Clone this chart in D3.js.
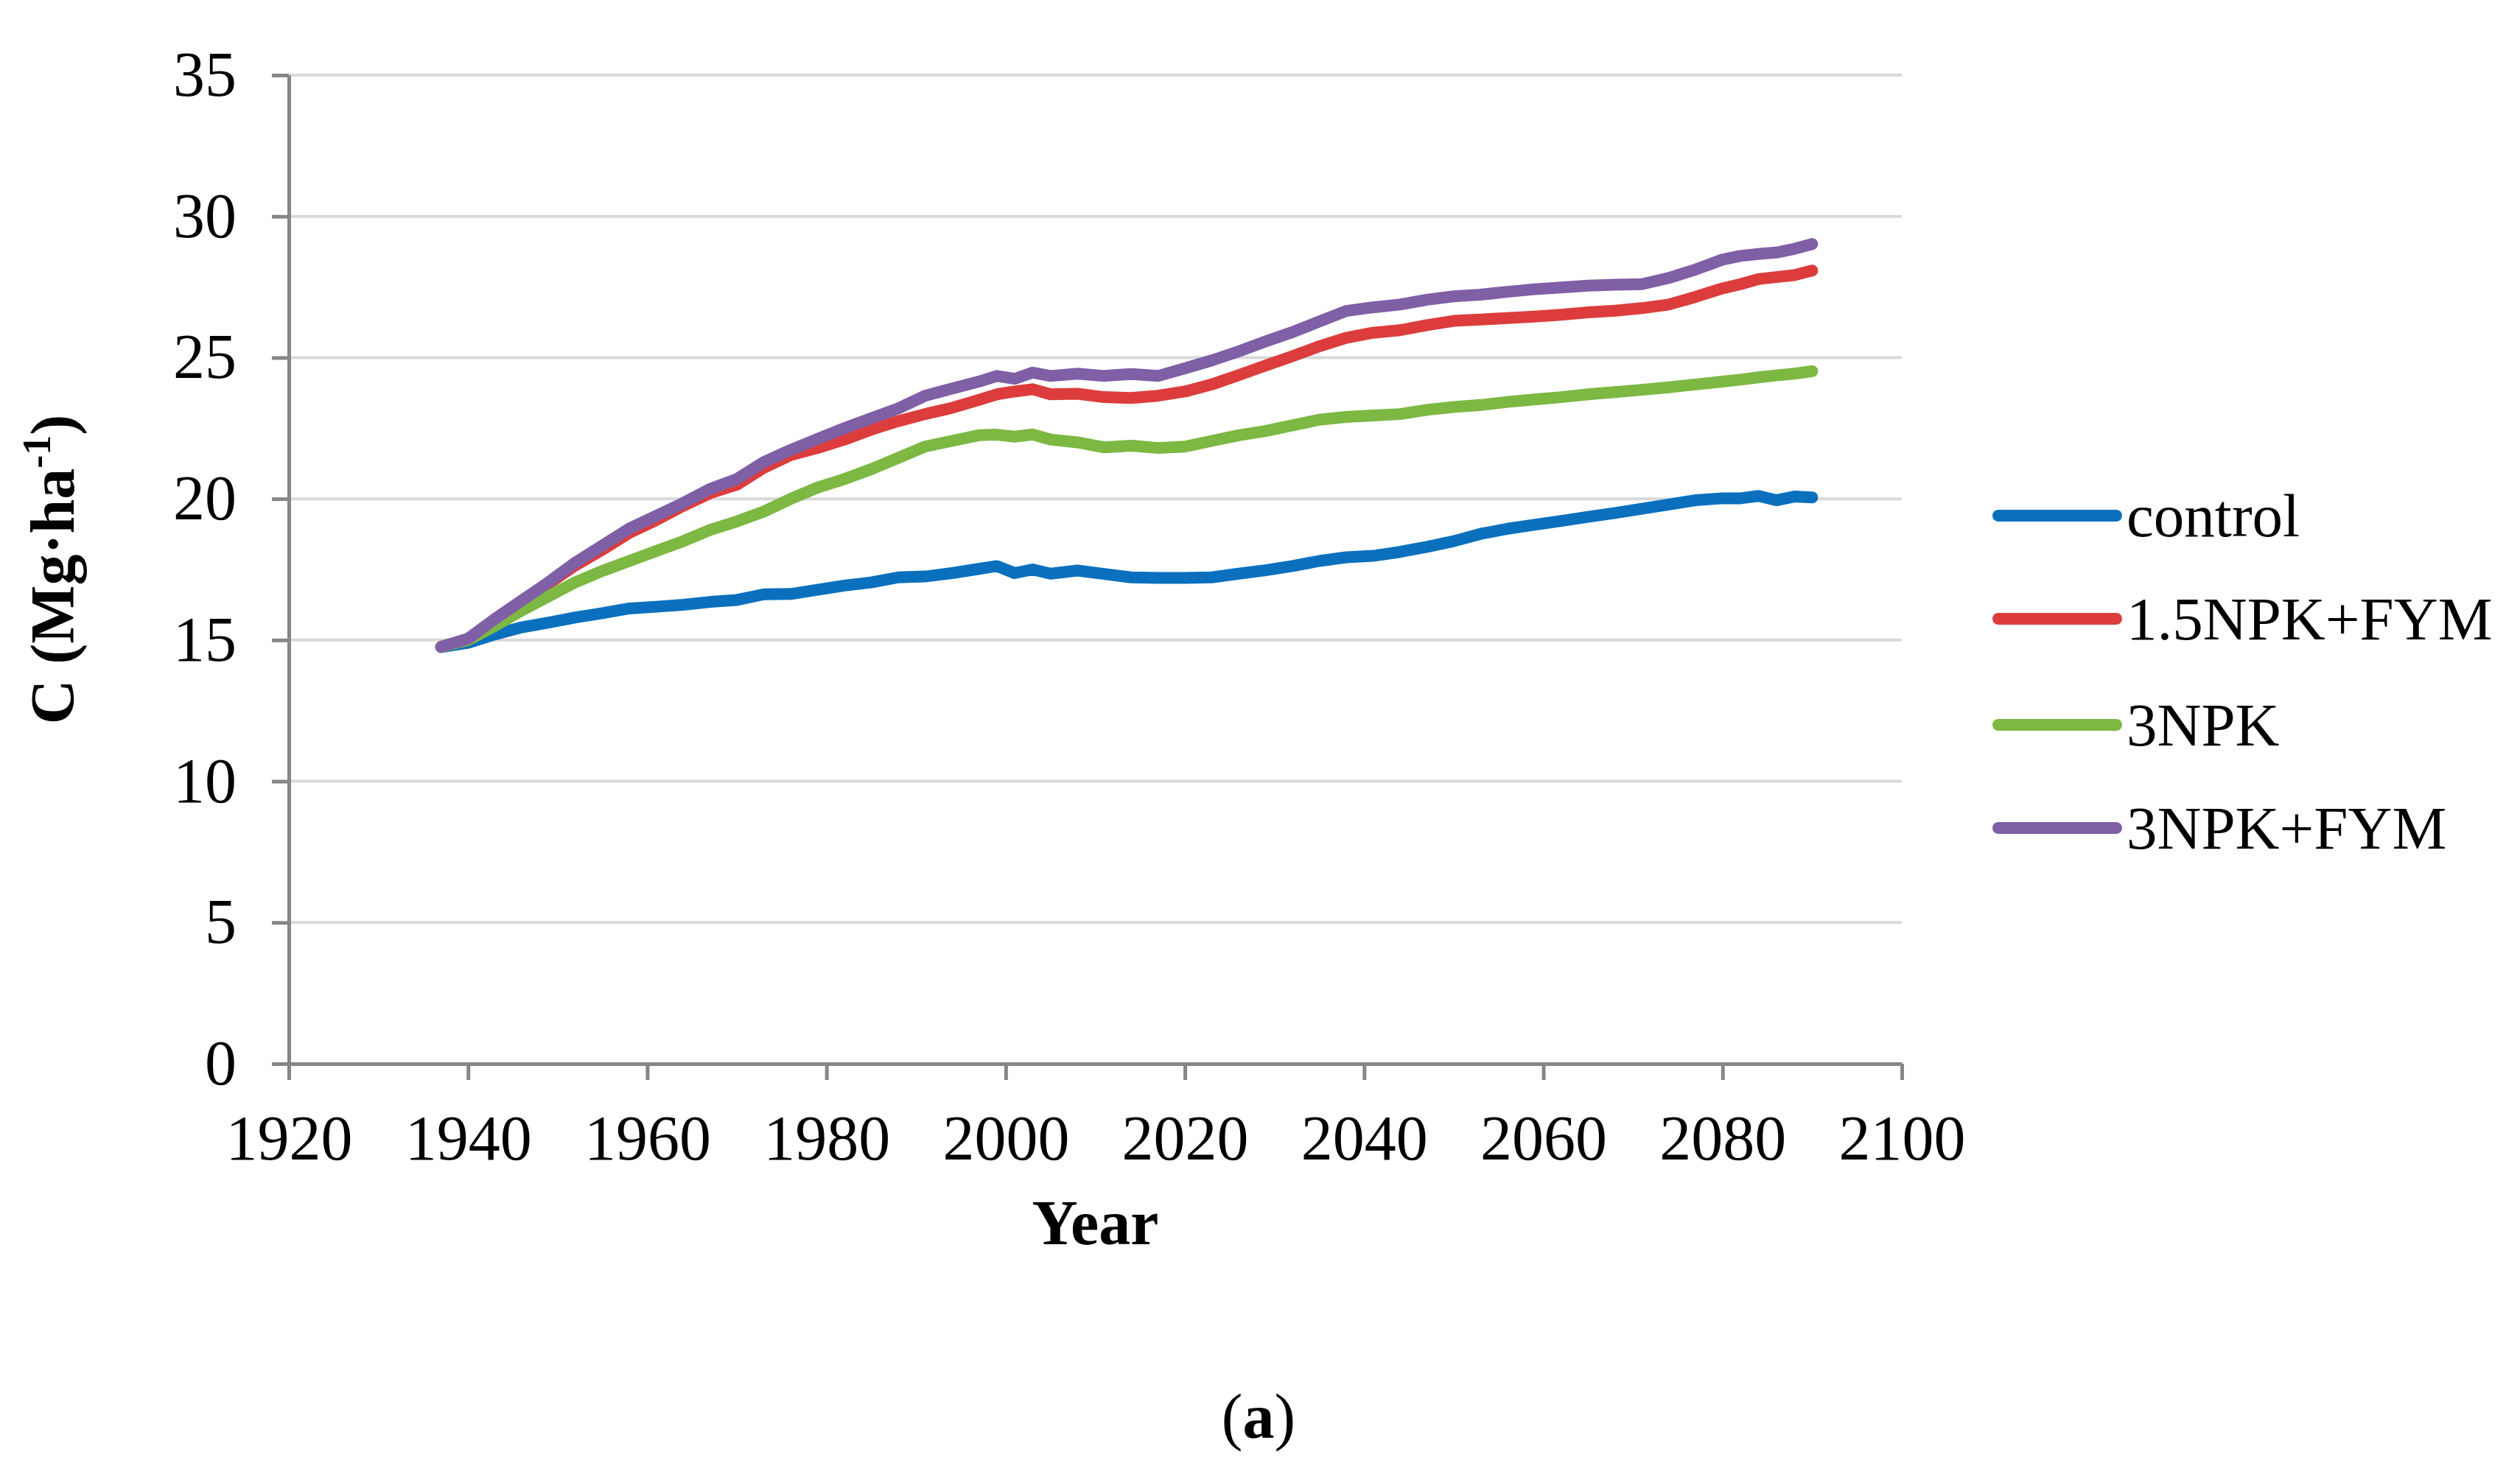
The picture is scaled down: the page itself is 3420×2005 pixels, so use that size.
<!DOCTYPE html>
<html>
<head>
<meta charset="utf-8">
<script src="https://cdn.jsdelivr.net/npm/d3@7"></script>
<style>
    body { margin: 0; background: #fff; }
    svg { display: block; }
    .axis path, .axis line { stroke: #868686; stroke-width: 5; }
    .axis text { font-family: 'Liberation Serif', 'Times New Roman', serif; font-size: 86px; fill: #000; }
    .grid line { stroke: #d9d9d9; stroke-width: 4; }
    .label { font-family: 'Liberation Serif', 'Times New Roman', serif; fill: #000; }
</style>
</head>
<body>
<div id="chart"></div>
<script>
// years sampled along the curves
var years = [1937, 1940, 1943, 1946, 1949, 1952, 1955, 1958, 1961, 1964, 1967, 1970, 1973, 1976, 1979,
    1982, 1985, 1988, 1991, 1994, 1997, 1999, 2001, 2003, 2005, 2008, 2011, 2014, 2017, 2020, 2023,
    2026, 2029, 2032, 2035, 2038, 2041, 2044, 2047, 2050, 2053, 2056, 2059, 2062, 2065, 2068, 2071,
    2074, 2077, 2080, 2082, 2084, 2086, 2088, 2090];

var control = [14.75, 14.9, 15.2, 15.45, 15.62, 15.8, 15.95, 16.12, 16.18, 16.25, 16.35, 16.42, 16.62, 16.63, 16.78,
    16.93, 17.04, 17.22, 17.25, 17.37, 17.52, 17.62, 17.37, 17.5, 17.35, 17.46, 17.34, 17.22, 17.2, 17.2, 17.22,
    17.35, 17.47, 17.62, 17.8, 17.93, 17.98, 18.12, 18.3, 18.5, 18.76, 18.94, 19.08, 19.22, 19.36, 19.5, 19.65,
    19.8, 19.95, 20.02, 20.02, 20.1, 19.95, 20.08, 20.05];

var npk15fym = [14.76, 15.02, 15.7, 16.35, 17.0, 17.65, 18.2, 18.8, 19.25, 19.75, 20.2, 20.5, 21.1, 21.55, 21.8,
    22.1, 22.45, 22.75, 23.0, 23.22, 23.5, 23.7, 23.8, 23.88, 23.7, 23.72, 23.6, 23.57, 23.65, 23.8, 24.05,
    24.38, 24.72, 25.05, 25.4, 25.7, 25.88, 25.97, 26.15, 26.3, 26.35, 26.4, 26.45, 26.52, 26.6, 26.66, 26.75,
    26.88, 27.15, 27.45, 27.6, 27.78, 27.85, 27.92, 28.08];

var npk3 = [14.76, 15.0, 15.5, 16.05, 16.55, 17.05, 17.45, 17.8, 18.15, 18.5, 18.9, 19.2, 19.55, 20.0, 20.4,
    20.7, 21.05, 21.45, 21.85, 22.05, 22.25, 22.27, 22.2, 22.28, 22.1, 22.0, 21.82, 21.88, 21.8, 21.85, 22.05,
    22.25, 22.4, 22.6, 22.8, 22.9, 22.95, 23.0, 23.15, 23.25, 23.32, 23.43, 23.52, 23.6, 23.7, 23.78, 23.86,
    23.95, 24.05, 24.15, 24.22, 24.3, 24.37, 24.43, 24.52];

var npk3fym = [14.76, 15.05, 15.75, 16.4, 17.05, 17.75, 18.35, 18.95, 19.4, 19.85, 20.35, 20.7, 21.3, 21.73, 22.12,
    22.5, 22.85, 23.2, 23.65, 23.9, 24.15, 24.35, 24.25, 24.47, 24.35, 24.43, 24.35, 24.42, 24.35, 24.62, 24.9,
    25.22, 25.57, 25.9, 26.28, 26.65, 26.78, 26.88, 27.05, 27.17, 27.23, 27.33, 27.42, 27.48, 27.55, 27.58, 27.6,
    27.82, 28.12, 28.47, 28.6, 28.67, 28.72, 28.85, 29.02];

var seriesNames = ['control', '1.5NPK+FYM', '3NPK', '3NPK+FYM'];
var seriesColors = ['#0a70be', '#dc3d3c', '#7cb842', '#7f5fa6'];
var xTicks = [1920, 1940, 1960, 1980, 2000, 2020, 2040, 2060, 2080, 2100];
var yTicks = [0, 5, 10, 15, 20, 25, 30, 35];

(function() {
    var width = 3420;
    var height = 2005;
    var plotLeft = 392, plotRight = 2581, plotTop = 102, plotBottom = 1444;

    var svg = d3.select('#chart').append('svg')
        .attr('width', width)
        .attr('height', height);

    var x = d3.scaleLinear().domain([1920, 2100]).range([plotLeft, plotRight]);
    var y = d3.scaleLinear().domain([0, 35]).range([plotBottom, plotTop]);

    // horizontal gridlines
    svg.append('g')
        .attr('class', 'grid')
        .selectAll('line')
        .data(yTicks.filter(function(d) { return d > 0; }))
        .enter().append('line')
        .attr('x1', plotLeft)
        .attr('x2', plotRight)
        .attr('y1', function(d) { return y(d); })
        .attr('y2', function(d) { return y(d); });

    svg.append('g')
        .attr('class', 'axis')
        .attr('transform', 'translate(0,' + plotBottom + ')')
        .call(d3.axisBottom(x).tickValues(xTicks).tickSize(22).tickSizeOuter(0).tickPadding(47).tickFormat(d3.format('d')));

    svg.append('g')
        .attr('class', 'axis')
        .attr('transform', 'translate(' + plotLeft + ',0)')
        .call(d3.axisLeft(y).tickValues(yTicks).tickSize(23).tickSizeOuter(0).tickPadding(48));

    var allSeries = [control, npk15fym, npk3, npk3fym];

    var line = d3.line()
        .x(function(d, i) { return x(years[i]); })
        .y(function(d) { return y(d); });

    svg.append('g')
        .selectAll('path')
        .data(allSeries)
        .enter().append('path')
        .attr('d', line)
        .attr('fill', 'none')
        .attr('stroke', function(d, i) { return seriesColors[i]; })
        .attr('stroke-width', 16)
        .attr('stroke-linejoin', 'round')
        .attr('stroke-linecap', 'round');

    // legend
    var legendY = [700, 840, 984, 1124];
    var legend = svg.append('g')
        .selectAll('g')
        .data(seriesNames)
        .enter().append('g')
        .attr('transform', function(d, i) { return 'translate(0,' + legendY[i] + ')'; });

    legend.append('line')
        .attr('x1', 2712)
        .attr('x2', 2872)
        .attr('stroke', function(d, i) { return seriesColors[i]; })
        .attr('stroke-width', 16)
        .attr('stroke-linecap', 'round');

    legend.append('text')
        .attr('class', 'label')
        .attr('x', 2886)
        .attr('y', 28)
        .attr('font-size', 83)
        .text(function(d) { return d; });

    // axis titles
    var yTitle = svg.append('text')
        .attr('class', 'label')
        .attr('transform', 'translate(100,' + (plotTop + plotBottom) / 2 + ') rotate(-90)')
        .attr('text-anchor', 'middle')
        .attr('font-size', 84)
        .attr('font-weight', 'bold');
    yTitle.append('tspan').text('C (Mg·ha');
    yTitle.append('tspan').attr('font-size', 54).attr('dy', -32).text('-1');
    yTitle.append('tspan').attr('dy', 32).text(')');

    svg.append('text')
        .attr('class', 'label')
        .attr('x', (plotLeft + plotRight) / 2)
        .attr('y', 1689)
        .attr('text-anchor', 'middle')
        .attr('font-size', 86)
        .attr('font-weight', 'bold')
        .text('Year');

    var caption = svg.append('text')
        .attr('class', 'label')
        .attr('x', 1708)
        .attr('y', 1952)
        .attr('text-anchor', 'middle')
        .attr('font-size', 86);
    caption.append('tspan').text('(');
    caption.append('tspan').attr('font-weight', 'bold').text('a');
    caption.append('tspan').text(')');
})();
</script>
</body>
</html>
